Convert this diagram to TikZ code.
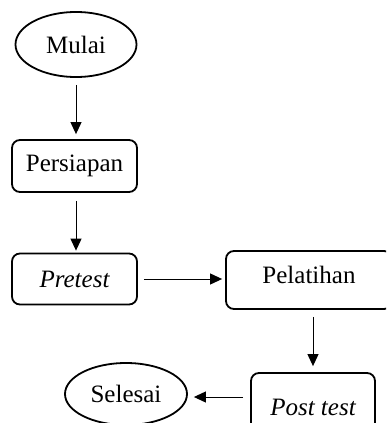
\documentclass[tikz,border=0pt]{standalone}
\usepackage{fontspec}
\setmainfont{Liberation Serif}
\usetikzlibrary{arrows.meta,shapes.geometric}
\tikzset{
  box/.style={draw, line width=1.8pt, rounded corners=8pt, inner sep=0pt, font=\fontsize{25}{30}\selectfont},
  oval/.style={draw, ellipse, line width=1.8pt, inner sep=0pt, font=\fontsize{25}{30}\selectfont},
  conn/.style={line width=1pt, -{Triangle[length=12pt,width=11pt]}}
}
\begin{document}
\begin{tikzpicture}[x=1pt,y=-1pt]
\useasboundingbox (0,0) rectangle (386,423);
\clip (0,0) rectangle (386,423);
\node[oval, minimum width=121pt, minimum height=65pt] (mulai) at (76,44.5) {Mulai};
\node[box, minimum width=125pt, minimum height=52pt] (persiapan) at (74.5,166) {Persiapan};
\node[box, minimum width=125pt, minimum height=51pt] (pretest) at (74.5,279) {\itshape Pretest};
\node[box, minimum width=166pt, minimum height=58pt, text height=17pt, text depth=10pt] (pelatihan) at (309,280) {Pelatihan};
\node[box, minimum width=124pt, minimum height=70pt, text height=17pt, text depth=3pt] (posttest) at (313,408) {\itshape Post test};
\node[oval, minimum width=122pt, minimum height=62pt] (selesai) at (126,394) {Selesai};
\draw[conn, shorten <=7pt, shorten >=5pt] (mulai.south -| 76,0) -- (persiapan.north -| 76,0);
\draw[conn, shorten <=8pt, shorten >=2pt] (persiapan.south -| 76,0) -- (pretest.north -| 76,0);
\draw[conn, shorten <=6pt, shorten >=3pt] (pretest.east) -- (pretest.east -| pelatihan.west);
\draw[conn, shorten <=7pt, shorten >=6pt] (pelatihan.south -| posttest.north) -- (posttest.north);
\draw[conn, shorten <=7pt, shorten >=6pt] (posttest.west |- 0,397) -- (selesai.east |- 0,397);
\end{tikzpicture}
\end{document}
